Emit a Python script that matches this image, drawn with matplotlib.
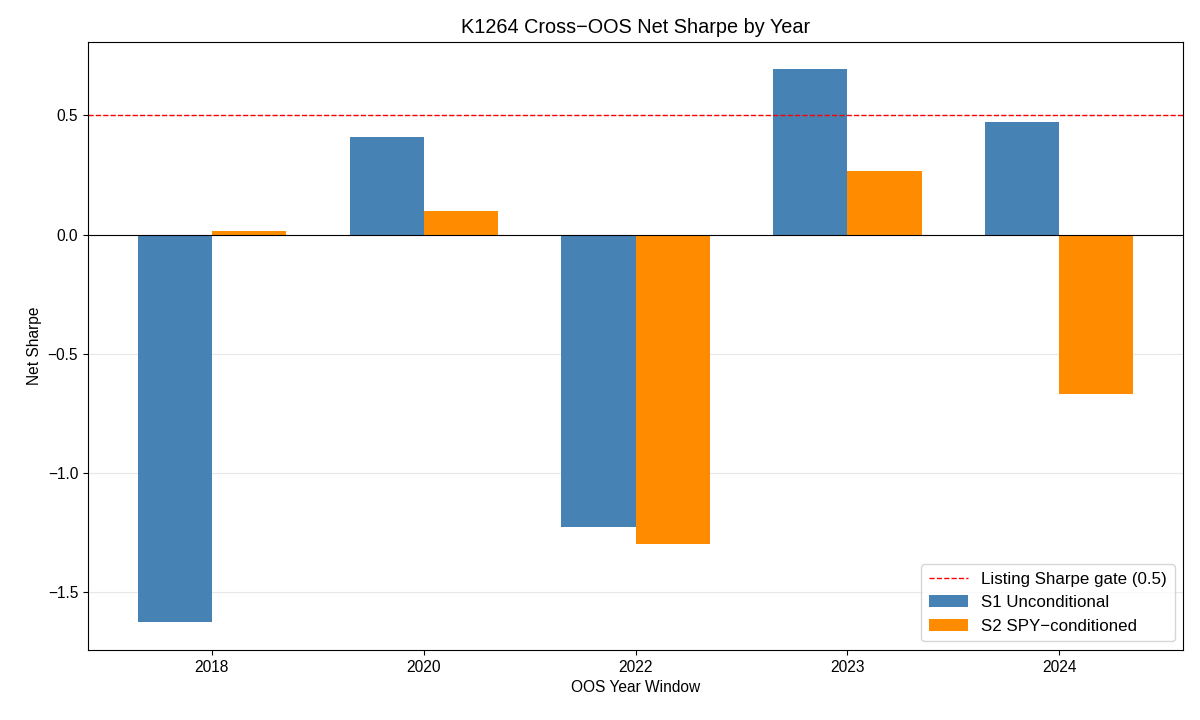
import matplotlib
matplotlib.use("Agg")
import matplotlib.pyplot as plt
import numpy as np

plt.rcParams['font.family'] = ['Liberation Sans', 'DejaVu Sans']
plt.rcParams['axes.unicode_minus'] = True
plt.rcParams['font.size'] = 11.2
plt.rcParams['axes.titlesize'] = 14.3

years = ["2018", "2020", "2022", "2023", "2024"]
s1_unconditional = [-1.626, 0.408, -1.227, 0.693, 0.471]
s2_spy_conditioned = [0.013, 0.101, -1.298, 0.265, -0.668]
gate = 0.5

fig, ax = plt.subplots(figsize=(12, 7.2), dpi=100)
x = np.arange(len(years))
w = 0.35
ax.bar(x - w/2, s1_unconditional, w, color="steelblue", label="S1 Unconditional")
ax.bar(x + w/2, s2_spy_conditioned, w, color="darkorange", label="S2 SPY\u2212conditioned")
ax.axhline(gate, color="red", linestyle="--", linewidth=1, label="Listing Sharpe gate (0.5)")
ax.axhline(0, color="black", linewidth=0.8)
ax.set_xticks(x)
ax.set_xticklabels(years)
ax.set_xlabel("OOS Year Window")
ax.set_ylabel("Net Sharpe")
ax.set_title("K1264 Cross\u2212OOS Net Sharpe by Year")
ax.grid(axis="y", alpha=0.3)
ax.set_axisbelow(True)
ax.legend(loc="lower right", fontsize=12.2, handlelength=2.3, borderpad=0.45, labelspacing=0.5)
fig.subplots_adjust(left=0.0733, right=0.986, top=0.942, bottom=0.0975)
fig.savefig("out.png", dpi=100)
